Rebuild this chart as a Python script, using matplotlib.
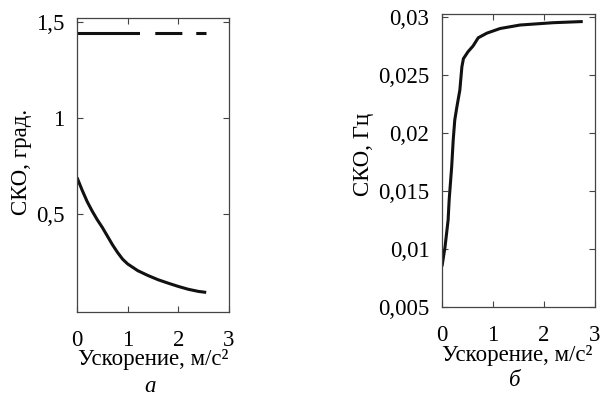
"""
СКО оценок в зависимости от ускорения: угол (а) и частота (б).
"""

import matplotlib
matplotlib.use("Agg")
import matplotlib.pyplot as plt

plt.rcParams["font.family"] = ["Liberation Serif", "DejaVu Serif"]
plt.rcParams["lines.scale_dashes"] = False

# ----- данные -----
# (а) СКО угла, град.
acc_a = [0, 0.1, 0.2, 0.3, 0.4, 0.5, 0.6, 0.7, 0.8, 0.9, 1.0,
         1.2, 1.4, 1.6, 1.8, 2.0, 2.2, 2.4, 2.55]
sko_angle = [0.69, 0.625, 0.565, 0.515, 0.47, 0.43, 0.385, 0.34, 0.30, 0.265, 0.24,
             0.205, 0.180, 0.158, 0.14, 0.123, 0.108, 0.097, 0.092]
acc_level = [0, 2.55]
sko_level = [1.443, 1.443]

# (б) СКО частоты, Гц
acc_b = [0, 0.06, 0.12, 0.14, 0.19, 0.22, 0.25, 0.29, 0.35, 0.39, 0.42,
         0.51, 0.61, 0.71, 0.88, 1.14, 1.53, 2.18, 2.76]
sko_freq = [0.0085, 0.0102, 0.0125, 0.0142, 0.0171, 0.0194, 0.0211, 0.0222, 0.0237,
            0.0257, 0.0264, 0.0270, 0.0275, 0.0282, 0.0286, 0.0290, 0.0293, 0.0295, 0.0296]

x_ticks = [0, 1, 2, 3]
x_ticklabels = ["0", "1", "2", "3"]
ya_ticks = [0.5, 1.0, 1.5]
ya_ticklabels = ["0,5", "1", "1,5"]
yb_ticks = [0.005, 0.01, 0.015, 0.02, 0.025, 0.03]
yb_ticklabels = ["0,005", "0,01", "0,015", "0,02", "0,025", "0,03"]

FS_TICK = 16.5
FS_LAB = 16.5
LINE = "#111111"
W, H = 604, 395


def style_axes(ax):
    for s in ax.spines.values():
        s.set_linewidth(0.9)
        s.set_color("#444444")
    ax.tick_params(direction="in", top=True, right=True, length=4, width=0.8,
                   color="#444444", labelsize=FS_TICK)
    ax.tick_params(axis="x", pad=13)
    ax.tick_params(axis="y", pad=9)
    ax.set_xlim(0, 3)
    ax.set_xticks(x_ticks)
    ax.set_xticklabels(x_ticklabels)
    ax.set_xlabel("Ускорение, м/с²", fontsize=FS_LAB, va="center")


fig = plt.figure(figsize=(6.04, 3.95), dpi=100)
ax1 = fig.add_axes([77 / W, 1 - 312 / H, 152 / W, 294 / H])
ax2 = fig.add_axes([442 / W, 1 - 307 / H, 153 / W, 293 / H])

# (а)
ax1.plot(acc_a, sko_angle, color=LINE, lw=2.2, solid_capstyle="butt")
ax1.plot(acc_level, sko_level, color=LINE, lw=2.2,
         linestyle=(0, (45, 11, 19.5, 10)), dash_capstyle="butt")
style_axes(ax1)
ax1.set_ylim(-0.01, 1.52)
ax1.set_yticks(ya_ticks)
ax1.set_yticklabels(ya_ticklabels)
ax1.set_ylabel("СКО, град.", fontsize=FS_LAB, va="center")
ax1.yaxis.set_label_coords(-56 / 152, 0.51)
ax1.xaxis.set_label_coords(0.5, -48 / 294)
fig.text(150 / W, 1 - 386 / H, "а", fontsize=FS_LAB, style="italic",
         ha="center", va="center")

# (б)
ax2.plot(acc_b, sko_freq, color=LINE, lw=2.2, solid_capstyle="butt")
style_axes(ax2)
ax2.set_ylim(0.005, 0.03025)
ax2.set_yticks(yb_ticks)
ax2.set_yticklabels(yb_ticklabels)
ax2.set_ylabel("СКО, Гц", fontsize=FS_LAB, va="center")
ax2.yaxis.set_label_coords(-79 / 153, 0.52)
ax2.xaxis.set_label_coords(0.49, -48 / 293)
fig.text(515 / W, 1 - 381 / H, "б", fontsize=FS_LAB, style="italic",
         ha="center", va="center")

fig.savefig("out.png", dpi=100)
